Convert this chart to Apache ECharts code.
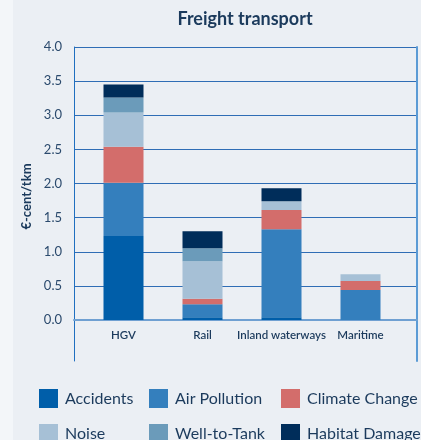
<!DOCTYPE html>
<html>
<head>
<meta charset="utf-8">
<script src="https://cdn.jsdelivr.net/npm/echarts@6/dist/echarts.min.js"></script>
<style>
  html, body { margin: 0; padding: 0; }
  body { background: linear-gradient(to right, #f3f6f9 13px, #ebeff4 13px); }
  #chart { width: 421px; height: 440px; }
</style>
</head>
<body>
<div id="chart"></div>
<script>
// values in euro-cent per tonne-km
var categories = ["HGV", "Rail", "Inland waterways", "Maritime"];
var accidents = [1.23, 0.04, 0.04, 0];
var airPollution = [0.78, 0.19, 1.29, 0.44];
var climateChange = [0.53, 0.08, 0.28, 0.13];
var noise = [0.50, 0.55, 0.13, 0.10];
var wellToTank = [0.22, 0.19, 0, 0];
var habitatDamage = [0.19, 0.25, 0.19, 0];

var navy = "#1b3a5c";
var font = "Lato";

function bar(name, data, color) {
  return {
    name: name,
    type: "bar",
    stack: "total",
    xAxisIndex: 1,
    yAxisIndex: 1,
    barWidth: 40,
    itemStyle: { color: color },
    data: data
  };
}

// one legend per entry so the columns line up like in a table
function legendItem(left, top, name) {
  return {
    left: left,
    top: top,
    icon: "rect",
    itemWidth: 19,
    itemHeight: 19,
    padding: 0,
    textStyle: { fontFamily: font, fontSize: 16, color: navy, padding: [0, 0, 0, 2] },
    data: [name]
  };
}

var myChart = echarts.init(document.getElementById("chart"));
myChart.setOption({
  backgroundColor: "transparent",
  animation: false,
  title: {
    text: "Freight transport",
    left: 240,
    textAlign: "center",
    top: 5,
    textStyle: { fontFamily: font, fontSize: 18, fontWeight: "bold", color: navy }
  },
  legend: [
    legendItem(39, 389, "Accidents"),
    legendItem(39, 424, "Noise"),
    legendItem(149, 389, "Air Pollution"),
    legendItem(149, 424, "Well-to-Tank"),
    legendItem(281, 389, "Climate Change"),
    legendItem(281, 424, "Habitat Damage")
  ],
  grid: [
    // gridlines + y labels
    { left: 74, right: 4, top: 47, bottom: 120 },
    // bars
    { left: 84, right: 21, top: 47, bottom: 120 },
    // frame lines running down past the axis
    { left: 74, right: 4, top: 47, bottom: 79 }
  ],
  xAxis: [
    {
      gridIndex: 0, type: "category", data: categories,
      axisLine: { show: true, lineStyle: { color: "#6fa0d2", width: 2 } },
      axisTick: { show: false }, axisLabel: { show: false }
    },
    {
      gridIndex: 1, type: "category", data: categories,
      axisLine: { show: false }, axisTick: { show: false },
      axisLabel: { interval: 0, margin: 9, fontFamily: font, fontSize: 11.5, fontWeight: 600, color: navy }
    },
    { gridIndex: 2, type: "value", show: false }
  ],
  yAxis: [
    {
      gridIndex: 0, type: "value", min: 0, max: 4, interval: 0.5,
      name: "€-cent/tkm",
      nameLocation: "middle",
      nameGap: 39,
      nameTextStyle: { fontFamily: font, fontSize: 13, fontWeight: "bold", color: navy, padding: [0, 26, 0, 0] },
      axisLine: { show: false }, axisTick: { show: false },
      axisLabel: {
        margin: 12, fontFamily: font, fontSize: 13, color: "#2b4a6d",
        formatter: function (v) { return v.toFixed(1); }
      },
      splitLine: { show: true, lineStyle: { color: "#2f6db5", width: 1 } }
    },
    { gridIndex: 1, type: "value", min: 0, max: 4, show: false },
    {
      gridIndex: 2, type: "value", position: "left",
      axisLine: { show: true, lineStyle: { color: "#1f6fc0", width: 1 } },
      axisTick: { show: false }, axisLabel: { show: false }, splitLine: { show: false }
    },
    {
      gridIndex: 2, type: "value", position: "right",
      axisLine: { show: true, lineStyle: { color: "#5b9bd5", width: 2 } },
      axisTick: { show: false }, axisLabel: { show: false }, splitLine: { show: false }
    }
  ],
  series: [
    bar("Accidents", accidents, "#005ea9"),
    bar("Air Pollution", airPollution, "#347fbd"),
    bar("Climate Change", climateChange, "#d36d6b"),
    bar("Noise", noise, "#a6c0d6"),
    bar("Well-to-Tank", wellToTank, "#6b9bba"),
    bar("Habitat Damage", habitatDamage, "#002d5a")
  ]
});
window.addEventListener("resize", function () {
  myChart.resize();
});
</script>
</body>
</html>
